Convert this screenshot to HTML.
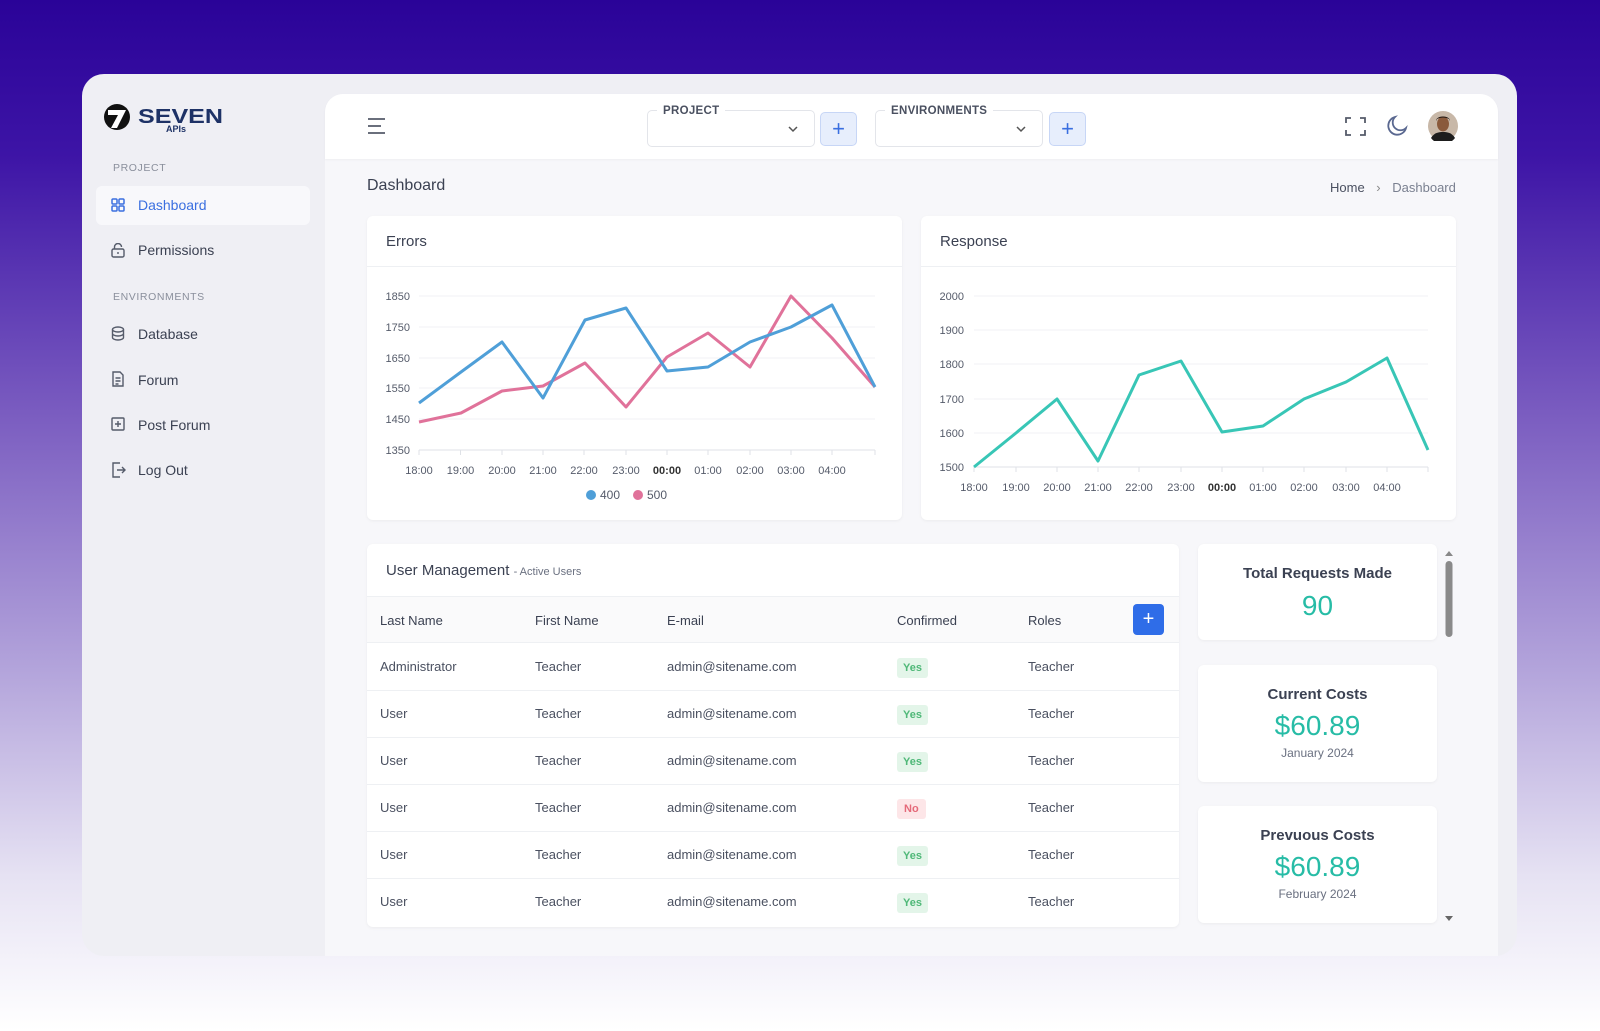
<!DOCTYPE html>
<html><head><meta charset="utf-8"><style>
*{margin:0;padding:0;box-sizing:border-box}
body{width:1600px;height:1031px;overflow:hidden;font-family:"Liberation Sans",sans-serif;background:linear-gradient(180deg,#2a0398 0%,#3d14a6 15%,#7a5cc0 40%,#b3a4db 65%,#e6e2f3 85%,#ffffff 100%);position:relative;color:#3b4152}
.a{position:absolute}
.win{left:82px;top:74px;width:1435px;height:882px;background:#efeff4;border-radius:22px}
.main{left:325px;top:94px;width:1173px;height:862px;background:#f7f7fa;border-top-left-radius:18px;border-top-right-radius:18px}
.hdr{left:325px;top:94px;width:1173px;height:65px;background:#fff;border-top-left-radius:18px;border-top-right-radius:18px;box-shadow:0 1px 2px rgba(0,0,0,.04)}
.card{background:#fff;border-radius:6px;box-shadow:0 1px 3px rgba(0,0,0,.05)}
.nav{font-size:14px;color:#3b4152}
.sec{font-size:10.5px;color:#8a8f9c;letter-spacing:.6px}
.sel{border:1px solid #e3e5ea;border-radius:5px;background:#fff}
.lab{font-size:11.5px;font-weight:bold;color:#4a5060;background:#fff;padding:0 6px;letter-spacing:.3px}
.plus{background:#e7eefc;border:1px solid #c7d6f6;border-radius:5px;color:#3a6fe0;font-size:22px;text-align:center;line-height:32px}
table{table-layout:fixed}
td{font-size:13px;color:#4a5060;padding:0}
.yes{background:#e3f5e9;color:#4fb878;font-size:11px;font-weight:bold;padding:4px 6px;border-radius:3px}
.no{background:#fde6e8;color:#e56a7a;font-size:11px;font-weight:bold;padding:4px 7px;border-radius:3px}
.big{color:#27bca6;text-align:center}
</style></head><body>
<div class="a win"></div>
<!-- logo -->
<svg class="a" style="left:102px;top:102px" width="130" height="32">
<circle cx="15" cy="15" r="13" fill="#111"/>
<path d="M6 8h18l-9 18h-6l7-13h-10z" fill="#fff"/>
<text x="36" y="21" font-family="Liberation Sans" font-weight="bold" font-size="20" fill="#1e3266" textLength="85" lengthAdjust="spacingAndGlyphs">SEVEN</text>
<text x="64" y="30" font-family="Liberation Sans" font-weight="bold" font-size="9" fill="#1e3266">APIs</text>
</svg>
<div class="a sec" style="left:113px;top:162px">PROJECT</div>
<div class="a" style="left:96px;top:186px;width:214px;height:39px;background:#f8f8fb;border-radius:6px"></div>
<svg class="a" style="left:111px;top:198px" width="14" height="14"><g fill="none" stroke="#3a6fe0" stroke-width="1.5"><rect x="1" y="1" width="5" height="5" rx="1"/><rect x="8" y="1" width="5" height="5" rx="1"/><rect x="1" y="8" width="5" height="5" rx="1"/><rect x="8" y="8" width="5" height="5" rx="1"/></g></svg>
<div class="a nav" style="left:138px;top:197px;color:#3a6fe0">Dashboard</div>
<svg class="a" style="left:111px;top:243px" width="14" height="15"><g fill="none" stroke="#555b6a" stroke-width="1.4"><rect x="1" y="6" width="12" height="8" rx="1.5"/><path d="M3.5 6V4a3.5 3.5 0 0 1 7 0"/><path d="M6 10h2"/></g></svg>
<div class="a nav" style="left:138px;top:242px">Permissions</div>
<div class="a sec" style="left:113px;top:291px">ENVIRONMENTS</div>
<svg class="a" style="left:111px;top:326px" width="14" height="15"><g fill="none" stroke="#555b6a" stroke-width="1.4"><ellipse cx="7" cy="3.5" rx="5.5" ry="2.5"/><path d="M1.5 3.5v8c0 1.4 2.5 2.5 5.5 2.5s5.5-1.1 5.5-2.5v-8M1.5 7.5c0 1.4 2.5 2.5 5.5 2.5s5.5-1.1 5.5-2.5"/></g></svg>
<div class="a nav" style="left:138px;top:326px">Database</div>
<svg class="a" style="left:111px;top:371px" width="14" height="16"><g fill="none" stroke="#555b6a" stroke-width="1.4"><path d="M2 1h7l3 3v11H2z"/><path d="M4.5 7h5M4.5 10h5M4.5 13h3"/></g></svg>
<div class="a nav" style="left:138px;top:372px">Forum</div>
<svg class="a" style="left:111px;top:417px" width="15" height="15"><g fill="none" stroke="#555b6a" stroke-width="1.4"><rect x="1" y="1" width="12" height="12" rx="1"/><path d="M7 4v6M4 7h6"/></g></svg>
<div class="a nav" style="left:138px;top:417px">Post Forum</div>
<svg class="a" style="left:111px;top:462px" width="15" height="16"><g fill="none" stroke="#555b6a" stroke-width="1.4"><path d="M9 1H2v14h7"/><path d="M6 8h8M11 5l3 3-3 3"/></g></svg>
<div class="a nav" style="left:138px;top:462px">Log Out</div>

<div class="a main"></div>
<div class="a hdr"></div>
<svg class="a" style="left:367px;top:117px" width="20" height="18"><g stroke="#555b6a" stroke-width="1.8"><path d="M1 2h17M1 9h13M1 16h17"/></g></svg>
<div class="a sel" style="left:647px;top:110px;width:168px;height:37px"></div>
<div class="a lab" style="left:657px;top:105px">PROJECT</div>
<svg class="a" style="left:787px;top:125px" width="12" height="8"><path d="M2 2l4 4 4-4" fill="none" stroke="#555" stroke-width="1.5"/></svg>
<div class="a plus" style="left:820px;top:112px;width:37px;height:34px">+</div>
<div class="a sel" style="left:875px;top:110px;width:168px;height:37px"></div>
<div class="a lab" style="left:885px;top:105px">ENVIRONMENTS</div>
<svg class="a" style="left:1015px;top:125px" width="12" height="8"><path d="M2 2l4 4 4-4" fill="none" stroke="#555" stroke-width="1.5"/></svg>
<div class="a plus" style="left:1049px;top:112px;width:37px;height:34px">+</div>
<svg class="a" style="left:1345px;top:117px" width="21" height="19"><g fill="none" stroke="#555b6a" stroke-width="1.8"><path d="M1 6V1h5M15 1h5v5M20 13v5h-5M6 18H1v-5"/></g></svg>
<svg class="a" style="left:1386px;top:115px" width="22" height="22"><path d="M9 2a9 9 0 1 0 11 11A7.5 7.5 0 0 1 9 2z" fill="none" stroke="#5a6890" stroke-width="1.8"/></svg>
<svg class="a" style="left:1428px;top:111px" width="30" height="30"><circle cx="15" cy="15" r="15" fill="#c8b8a8"/><ellipse cx="15" cy="13" rx="6" ry="7.5" fill="#8a5a3c"/><path d="M8 10c0-6 14-6 14 0l-1-2c-4-2-8-2-12 0z" fill="#1d1410"/><path d="M3 27c3-5 7-6 12-6s9 1 12 6a15 15 0 0 1-24 0z" fill="#1d1d1d"/></svg>

<div class="a" style="left:367px;top:177px;font-size:16px;color:#3b4152">Dashboard</div>
<div class="a" style="left:1330px;top:180px;font-size:13px;color:#4a5060">Home <span style="margin:0 8px;color:#888">›</span> <span style="color:#7a8090">Dashboard</span></div>

<div class="a card" style="left:367px;top:216px;width:535px;height:304px"></div>
<div class="a" style="left:367px;top:266px;width:535px;height:1px;background:#eef0f3"></div>
<div class="a" style="left:386px;top:233px;font-size:15px;color:#3b4152">Errors</div>
<div class="a card" style="left:921px;top:216px;width:535px;height:304px"></div>
<div class="a" style="left:921px;top:266px;width:535px;height:1px;background:#eef0f3"></div>
<div class="a" style="left:940px;top:233px;font-size:15px;color:#3b4152">Response</div>

<svg class="a" style="left:0;top:0" width="1600" height="1031" font-family="Liberation Sans" font-size="11" fill="#555b6a">
<g stroke="#f0f1f4" stroke-width="1">
<path d="M419 296H875M419 327H875M419 358H875M419 388H875M419 419H875"/>
<path d="M974 296H1428M974 330H1428M974 364H1428M974 399H1428M974 433H1428"/>
</g>
<g stroke="#dfe2e7" stroke-width="1">
<path d="M419 450H875M974 467H1428"/>
<path d="M419 450v5M460.5 450v5M502 450v5M543 450v5M584 450v5M626 450v5M667 450v5M708 450v5M750 450v5M791 450v5M832 450v5M875 450v5"/>
<path d="M974 467v5M1016 467v5M1057 467v5M1098 467v5M1139 467v5M1181 467v5M1222 467v5M1263 467v5M1304 467v5M1346 467v5M1387 467v5M1428 467v5"/>
</g>
<g text-anchor="end">
<text x="410" y="300">1850</text><text x="410" y="331">1750</text><text x="410" y="362">1650</text><text x="410" y="392">1550</text><text x="410" y="423">1450</text><text x="410" y="454">1350</text>
<text x="964" y="300">2000</text><text x="964" y="334">1900</text><text x="964" y="368">1800</text><text x="964" y="403">1700</text><text x="964" y="437">1600</text><text x="964" y="471">1500</text>
</g>
<g text-anchor="middle">
<text x="419" y="474">18:00</text><text x="460.5" y="474">19:00</text><text x="502" y="474">20:00</text><text x="543" y="474">21:00</text><text x="584" y="474">22:00</text><text x="626" y="474">23:00</text><text x="667" y="474" font-weight="bold" fill="#333">00:00</text><text x="708" y="474">01:00</text><text x="750" y="474">02:00</text><text x="791" y="474">03:00</text><text x="832" y="474">04:00</text>
<text x="974" y="491">18:00</text><text x="1016" y="491">19:00</text><text x="1057" y="491">20:00</text><text x="1098" y="491">21:00</text><text x="1139" y="491">22:00</text><text x="1181" y="491">23:00</text><text x="1222" y="491" font-weight="bold" fill="#333">00:00</text><text x="1263" y="491">01:00</text><text x="1304" y="491">02:00</text><text x="1346" y="491">03:00</text><text x="1387" y="491">04:00</text>
</g>
<g fill="none" stroke-width="3" stroke-linejoin="round">
<polyline stroke="#e0729a" points="419,422 461,413 502,391 543,386 585,363 626,407 667,357 708,333 750,367 791,296 832,338 875,387"/>
<polyline stroke="#4f9fd8" points="419,403 461,372 502,342 543,398 585,320 626,308 667,371 708,367 750,342 791,327 832,305 875,387"/>
<polyline stroke="#38c6b6" points="974,467 1016,433 1057,399 1098,461 1139,375 1181,361 1222,432 1263,426 1304,399 1346,382 1387,358 1428,450"/>
</g>
<circle cx="591" cy="495" r="5" fill="#4f9fd8"/><text x="600" y="499" font-size="12">400</text>
<circle cx="638" cy="495" r="5" fill="#e0729a"/><text x="647" y="499" font-size="12">500</text>
</svg>

<div class="a card" style="left:367px;top:544px;width:812px;height:383px"></div>
<div class="a" style="left:386px;top:562px;font-size:15px;color:#3b4152">User Management <span style="font-size:11px;color:#6a7080">- Active Users</span></div>
<div class="a" style="left:367px;top:596px;width:812px;height:47px;background:#fafafb;border-top:1px solid #eef0f3;border-bottom:1px solid #eef0f3"></div>
<div class="a" style="left:1133px;top:604px;width:31px;height:31px;background:#2f6de8;border-radius:4px;color:#fff;font-size:20px;text-align:center;line-height:30px">+</div>
<div class="a" style="left:380px;top:613px;font-size:13px;color:#3b4152">Last Name</div>
<div class="a" style="left:535px;top:613px;font-size:13px;color:#3b4152">First Name</div>
<div class="a" style="left:667px;top:613px;font-size:13px;color:#3b4152">E-mail</div>
<div class="a" style="left:897px;top:613px;font-size:13px;color:#3b4152">Confirmed</div>
<div class="a" style="left:1028px;top:613px;font-size:13px;color:#3b4152">Roles</div>
<table class="a" style="left:367px;top:643px;width:812px;border-collapse:collapse">
<colgroup><col style="width:168px"><col style="width:132px"><col style="width:230px"><col style="width:131px"><col style="width:151px"></colgroup>
<tr style="height:47px;border-bottom:1px solid #eef0f3"><td style="padding-left:13px">Administrator</td><td>Teacher</td><td>admin@sitename.com</td><td><span class="yes">Yes</span></td><td>Teacher</td></tr>
<tr style="height:47px;border-bottom:1px solid #eef0f3"><td style="padding-left:13px">User</td><td>Teacher</td><td>admin@sitename.com</td><td><span class="yes">Yes</span></td><td>Teacher</td></tr>
<tr style="height:47px;border-bottom:1px solid #eef0f3"><td style="padding-left:13px">User</td><td>Teacher</td><td>admin@sitename.com</td><td><span class="yes">Yes</span></td><td>Teacher</td></tr>
<tr style="height:47px;border-bottom:1px solid #eef0f3"><td style="padding-left:13px">User</td><td>Teacher</td><td>admin@sitename.com</td><td><span class="no">No</span></td><td>Teacher</td></tr>
<tr style="height:47px;border-bottom:1px solid #eef0f3"><td style="padding-left:13px">User</td><td>Teacher</td><td>admin@sitename.com</td><td><span class="yes">Yes</span></td><td>Teacher</td></tr>
<tr style="height:47px"><td style="padding-left:13px">User</td><td>Teacher</td><td>admin@sitename.com</td><td><span class="yes">Yes</span></td><td>Teacher</td></tr>
</table>

<div class="a card" style="left:1198px;top:544px;width:239px;height:96px"></div>
<div class="a" style="left:1198px;top:565px;width:239px;text-align:center;font-size:15px;font-weight:bold;color:#3b4152">Total Requests Made</div>
<div class="a big" style="left:1198px;top:590px;width:239px;font-size:28px">90</div>
<div class="a card" style="left:1198px;top:665px;width:239px;height:117px"></div>
<div class="a" style="left:1198px;top:686px;width:239px;text-align:center;font-size:15px;font-weight:bold;color:#3b4152">Current Costs</div>
<div class="a big" style="left:1198px;top:710px;width:239px;font-size:28px">$60.89</div>
<div class="a" style="left:1198px;top:746px;width:239px;text-align:center;font-size:12px;color:#6a7080">January 2024</div>
<div class="a card" style="left:1198px;top:806px;width:239px;height:117px"></div>
<div class="a" style="left:1198px;top:827px;width:239px;text-align:center;font-size:15px;font-weight:bold;color:#3b4152">Prevuous Costs</div>
<div class="a big" style="left:1198px;top:851px;width:239px;font-size:28px">$60.89</div>
<div class="a" style="left:1198px;top:887px;width:239px;text-align:center;font-size:12px;color:#6a7080">February 2024</div>
<svg class="a" style="left:1442px;top:546px" width="14" height="380"><path d="M3 10l4-5 4 5z" fill="#888"/><rect x="3.5" y="15" width="7" height="76" rx="3.5" fill="#8a8a8a"/><path d="M3 370l4 5 4-5z" fill="#666"/></svg>
</body></html>
